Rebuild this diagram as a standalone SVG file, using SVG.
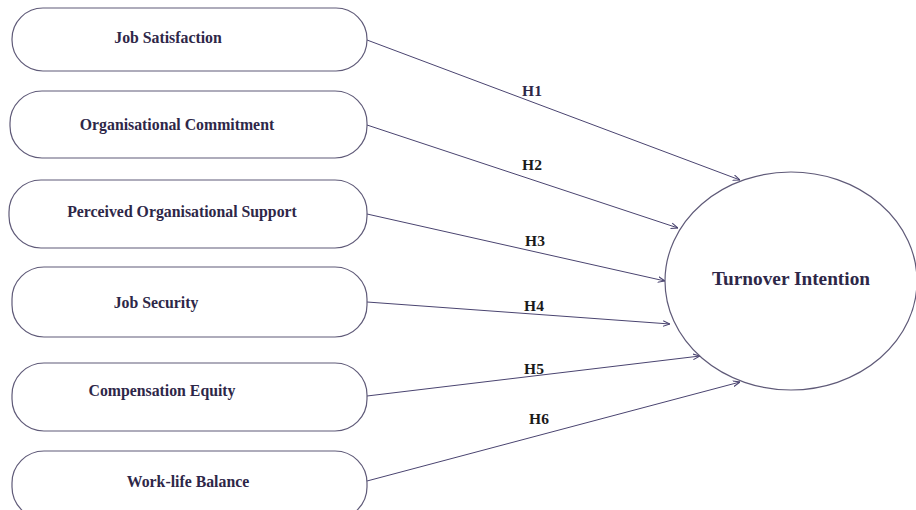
<svg xmlns="http://www.w3.org/2000/svg" width="916" height="510" viewBox="0 0 916 510">
<defs>
<marker id="arr" viewBox="0 0 10 10" refX="10" refY="5" markerWidth="7" markerHeight="7" markerUnits="userSpaceOnUse" orient="auto">
<path d="M0,1 L10,5 L0,9" fill="none" stroke="#4a4470" stroke-width="1.5"/>
</marker>
<style>
.box{fill:#fff;stroke:#5f5a78;stroke-width:1.2}
.lbl{font-family:"Liberation Serif","Times New Roman",serif;font-weight:bold;font-size:15.8px;fill:#2e2748;text-anchor:middle;dominant-baseline:central}
.big{font-size:19.3px}
.h{font-family:"Liberation Serif","Times New Roman",serif;font-weight:bold;font-size:15.5px;fill:#1a1a1a;text-anchor:middle;dominant-baseline:central}
.c{stroke:#4a4470;stroke-width:1;fill:none;marker-end:url(#arr)}
</style>
</defs>
<rect width="916" height="510" fill="#fff"/>
<g id="connectors">
<line class="c" x1="367" y1="40" x2="740" y2="180"/>
<line class="c" x1="367" y1="125" x2="678" y2="228"/>
<line class="c" x1="367" y1="214" x2="665" y2="281"/>
<line class="c" x1="367" y1="302" x2="670" y2="324"/>
<line class="c" x1="367" y1="396" x2="700" y2="356"/>
<line class="c" x1="367" y1="481" x2="740" y2="382"/>
<text class="h" x="532" y="90" style="fill:#2e2748">H1</text>
<text class="h" x="532" y="164">H2</text>
<text class="h" x="535" y="240">H3</text>
<text class="h" x="534" y="305">H4</text>
<text class="h" x="534" y="368">H5</text>
<text class="h" x="539" y="418">H6</text>
</g>
<g id="job-satisfaction">
<rect class="box" x="12" y="8" width="355" height="63" rx="31" ry="31"/>
<text class="lbl" x="168" y="37">Job Satisfaction</text>
</g>
<g id="organisational-commitment">
<rect class="box" x="10" y="91" width="357" height="67" rx="32" ry="32"/>
<text class="lbl" x="177" y="124">Organisational Commitment</text>
</g>
<g id="perceived-organisational-support">
<rect class="box" x="9" y="180" width="358" height="68" rx="32" ry="32"/>
<text class="lbl" x="182" y="211">Perceived Organisational Support</text>
</g>
<g id="job-security">
<rect class="box" x="12" y="267" width="355" height="70" rx="32" ry="32"/>
<text class="lbl" x="156" y="302">Job Security</text>
</g>
<g id="compensation-equity">
<rect class="box" x="12" y="363" width="355" height="68" rx="32" ry="32"/>
<text class="lbl" x="162" y="390">Compensation Equity</text>
</g>
<g id="work-life-balance">
<rect class="box" x="12" y="451" width="355" height="68" rx="32" ry="32"/>
<text class="lbl" x="188" y="481">Work-life Balance</text>
</g>
<g id="turnover-intention">
<ellipse class="box" cx="791" cy="281" rx="126" ry="109"/>
<text class="lbl big" x="791" y="278">Turnover Intention</text>
</g>
</svg>
